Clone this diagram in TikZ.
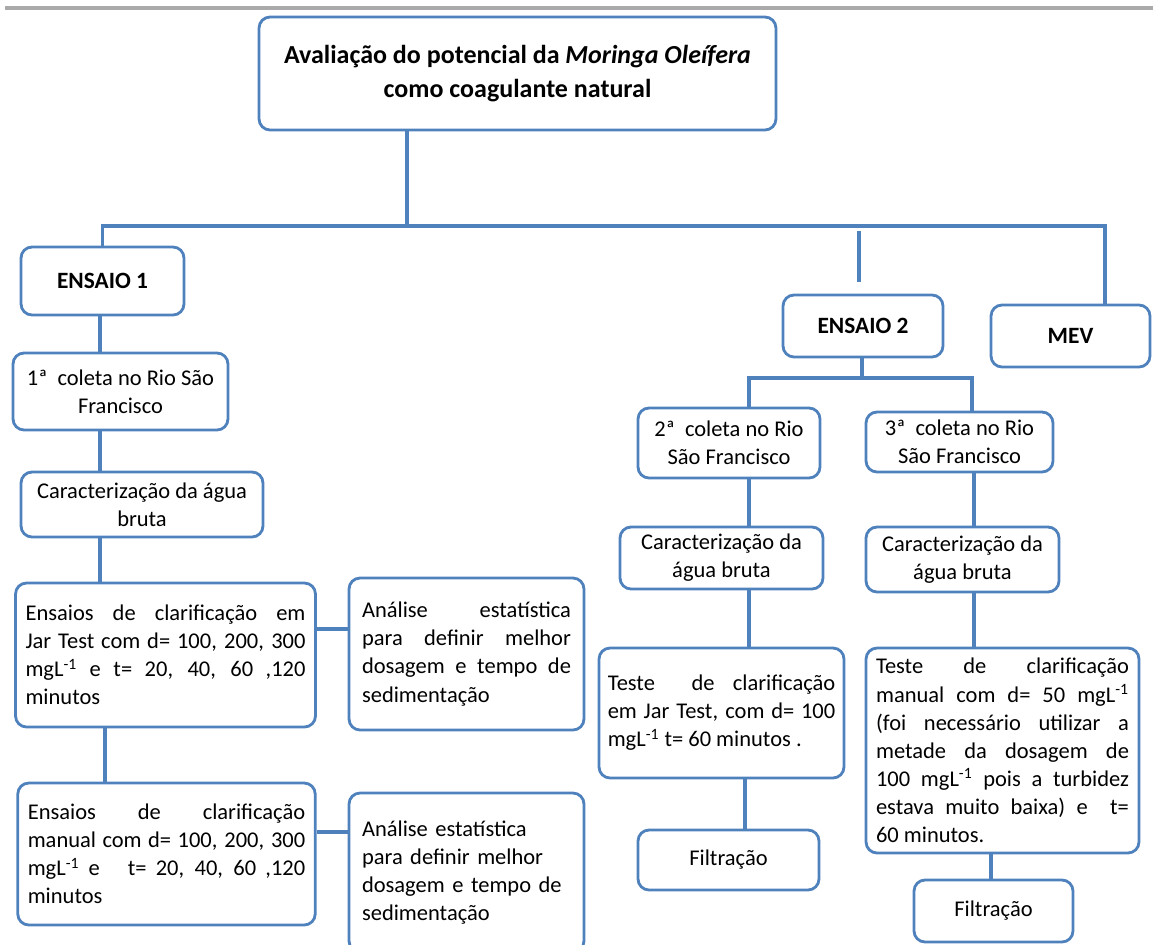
\documentclass[tikz,border=0pt]{standalone}
\usepackage{fontspec}
\setmainfont{Carlito}
\usetikzlibrary{calc}
\definecolor{linha}{RGB}{79,129,189}
\definecolor{cinza}{RGB}{170,170,170}

\begin{document}
\begin{tikzpicture}[x=0.02cm, y=-0.02cm,
  caixa/.style={draw=linha, line width=1.6pt, rounded corners=0.22cm,
    inner xsep=0.2cm, inner ysep=2pt, align=center,
    font=\fontsize{12.8}{16}\selectfont,
    execute at begin node={\tolerance=10000\hbadness=10000\hyphenpenalty=10000}},
  negrito/.style={caixa, font=\fontsize{13.3}{16}\selectfont\bfseries},
  texto/.style={caixa, align=justify},
  liga/.style={draw=linha, line width=2.8pt},
  ligafina/.style={draw=linha, line width=1.8pt}]
  \useasboundingbox (0,0) rectangle (1153,944);
  \clip (0,0) rectangle (1153,944);

  \draw[cinza, line width=0.09cm] (5,8) -- (1153,8);

  % topo
  \node[negrito, font=\fontsize{14.8}{19}\selectfont\bfseries,
    minimum width=10.34cm, minimum height=2.26cm] (aval) at (517.5,73.5)
    {Avaliação do potencial da \textit{Moringa Oleífera}\\como coagulante natural};

  % ensaio 1
  \node[negrito, minimum width=3.26cm, minimum height=1.36cm] (ensaio1) at (102.5,281) {ENSAIO 1};
  \node[caixa, minimum width=4.3cm, minimum height=1.54cm] (coleta1) at (120.5,391.5)
    {1ª\ \ coleta no Rio São\\Francisco};
  \node[caixa, minimum width=4.84cm, minimum height=1.3cm] (carac1) at (142,504.5)
    {Caracterização da água\\bruta};
  \node[texto, text width=5.6cm, minimum height=2.88cm] (jar1) at (165.5,655)
    {Ensaios de clarificação em\linebreak Jar Test com d= 100, 200, 300\linebreak
     mgL\textsuperscript{-1} e t= 20, 40, 60 ,120\linebreak minutos};
  \node[texto, text width=4.18cm, inner xsep=0.26cm, minimum height=3.04cm] (analise1) at (466.5,654)
    {Análise estatística\linebreak para definir melhor\linebreak dosagem e tempo de\linebreak sedimentação};
  \node[texto, text width=5.55cm, minimum height=2.84cm] (manual1) at (166.5,854)
    {Ensaios de clarificação\linebreak manual com d= 100, 200, 300\linebreak
     mgL\textsuperscript{-1} e\ \ \ t= 20, 40, 60 ,120\linebreak minutos};
  \node[caixa, align=left, text width=4.18cm, inner xsep=0.26cm, minimum height=3.18cm] (analise2) at (466.5,872.5)
    {Análise estatística\\para definir melhor\\dosagem e tempo de\\sedimentação};

  % ensaio 2 e MEV
  \node[negrito, minimum width=3.2cm, minimum height=1.24cm] (ensaio2) at (863,326) {ENSAIO 2};
  \node[negrito, minimum width=3.18cm, minimum height=1.24cm] (mev) at (1070.5,336) {MEV};
  \node[caixa, minimum width=3.64cm, minimum height=1.4cm] (coleta2) at (729,443)
    {2ª\ \ coleta no Rio\\São Francisco};
  \node[caixa, minimum width=3.74cm, minimum height=1.2cm] (coleta3) at (959.5,442)
    {3ª\ \ coleta no Rio\\São Francisco};
  \node[caixa, minimum width=4.06cm, minimum height=1.24cm] (carac2) at (721.5,558)
    {Caracterização da\\água bruta};
  \node[caixa, minimum width=3.86cm, minimum height=1.3cm] (carac3) at (962.5,559.5)
    {Caracterização da\\água bruta};
  \node[texto, text width=4.55cm, inner xsep=0.175cm, minimum height=2.6cm] (jar2) at (721.5,713)
    {Teste\ \ de clarificação\linebreak em Jar Test, com d= 100\linebreak
     mgL\textsuperscript{-1} t= 60 minutos .};
  \node[texto, text width=5.06cm, minimum height=4.1cm] (manual2) at (1002.5,750.5)
    {Teste de clarificação\linebreak manual com d= 50 mgL\textsuperscript{-1}\linebreak
     (foi necessário utilizar a\linebreak metade da dosagem de\linebreak
     100 mgL\textsuperscript{-1} pois a turbidez\linebreak estava muito baixa) e\ \ t=\linebreak 60 minutos.};
  \node[caixa, minimum width=3.62cm, minimum height=1.2cm] (filtro2) at (728.5,860) {Filtração};
  \node[caixa, minimum width=3.18cm, minimum height=1.24cm] (filtro3) at (993.5,911) {Filtração};

  % ligacoes
  \coordinate (divisao) at (407,226);
  \coordinate (fimbarra) at (1105,226);
  \draw[liga] (divisao |- aval.south) -- (divisao) -- (fimbarra) -- (fimbarra |- mev.north);
  \draw[ligafina] (divisao) -| (ensaio1.north);

  \coordinate (haste) at (859,231);
  \draw[liga, shorten >=0.24cm] (haste) -- (haste |- ensaio2.north);

  \coordinate (garfo) at (862,378);
  \coordinate (ramo2) at (749,378);
  \coordinate (ramo3) at (972,378);
  \draw[liga] (garfo |- ensaio2.south) -- (garfo);
  \draw[liga] (ramo2 |- coleta2.north) -- (ramo2) -- (ramo3) -- (ramo3 |- coleta3.north);

  \coordinate (eixo1) at (100,0);
  \coordinate (eixo1b) at (105,0);
  \draw[liga] (eixo1 |- ensaio1.south) -- (eixo1 |- coleta1.north);
  \draw[liga] (eixo1 |- coleta1.south) -- (eixo1 |- carac1.north);
  \draw[liga] (eixo1 |- carac1.south) -- (eixo1 |- jar1.north);
  \draw[liga] (eixo1b |- jar1.south) -- (eixo1b |- manual1.north);

  \coordinate (nivel1) at (0,629);
  \coordinate (nivel2) at (0,832);
  \draw[liga] (jar1.east |- nivel1) -- (analise1.west |- nivel1);
  \draw[liga] (manual1.east |- nivel2) -- (analise2.west |- nivel2);

  \coordinate (eixo2) at (749,0);
  \coordinate (eixo2b) at (745,0);
  \draw[liga] (eixo2 |- coleta2.south) -- (eixo2 |- carac2.north);
  \draw[liga] (eixo2 |- carac2.south) -- (eixo2 |- jar2.north);
  \draw[liga] (eixo2b |- jar2.south) -- (eixo2b |- filtro2.north);

  \coordinate (eixo3) at (974,0);
  \coordinate (eixo3b) at (991,0);
  \draw[liga] (eixo3 |- coleta3.south) -- (eixo3 |- carac3.north);
  \draw[liga] (eixo3 |- carac3.south) -- (eixo3 |- manual2.north);
  \draw[liga] (eixo3b |- manual2.south) -- (eixo3b |- filtro3.north);
\end{tikzpicture}
\end{document}
